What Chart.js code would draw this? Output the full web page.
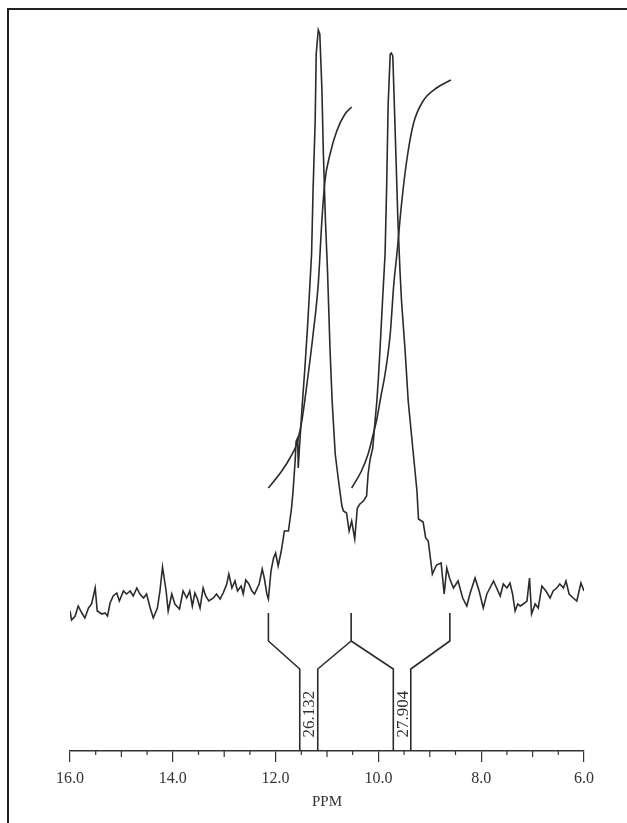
<!DOCTYPE html>
<html>
<head>
<meta charset="utf-8">
<script src="https://cdn.jsdelivr.net/npm/chart.js@4.4.1/dist/chart.umd.min.js"></script>
<style>
  body { margin: 0; background: #fff; }
  #wrap { width: 627px; height: 823px; }
</style>
</head>
<body>
<div id="wrap"><canvas id="nmrChart" width="627" height="823"></canvas></div>
<script>
// Spectrum trace (ppm, intensity in arbitrary units)
const specPpm = [16.00, 15.97, 15.90, 15.84, 15.77, 15.71, 15.64, 15.58, 15.51, 15.47, 15.38, 15.32, 15.27, 15.22, 15.16, 15.09, 15.04, 14.96, 14.90, 14.83, 14.77, 14.70, 14.64, 14.57, 14.51, 14.44, 14.38, 14.30, 14.25, 14.20, 14.13, 14.09, 14.02, 13.96, 13.87, 13.80, 13.73, 13.67, 13.62, 13.57, 13.52, 13.47, 13.41, 13.36, 13.30, 13.21, 13.15, 13.08, 13.02, 12.95, 12.91, 12.85, 12.79, 12.74, 12.67, 12.63, 12.58, 12.52, 12.46, 12.41, 12.32, 12.26, 12.22, 12.17, 12.14, 12.09, 12.04, 12.00, 11.95, 11.89, 11.85, 11.83, 11.75, 11.69, 11.66, 11.62, 11.60, 11.57, 11.56, 11.54, 11.49, 11.43, 11.38, 11.35, 11.30, 11.27, 11.23, 11.21, 11.17, 11.14, 11.10, 11.07, 11.03, 10.99, 10.94, 10.90, 10.84, 10.78, 10.71, 10.68, 10.62, 10.57, 10.52, 10.46, 10.41, 10.36, 10.29, 10.23, 10.20, 10.16, 10.11, 10.07, 10.03, 10.00, 9.97, 9.94, 9.92, 9.87, 9.84, 9.81, 9.77, 9.75, 9.72, 9.70, 9.66, 9.62, 9.58, 9.55, 9.48, 9.42, 9.32, 9.25, 9.22, 9.13, 9.08, 9.03, 8.95, 8.87, 8.78, 8.72, 8.67, 8.61, 8.54, 8.45, 8.36, 8.28, 8.22, 8.12, 8.04, 7.96, 7.89, 7.83, 7.76, 7.70, 7.63, 7.57, 7.50, 7.44, 7.39, 7.34, 7.29, 7.24, 7.18, 7.11, 7.06, 7.02, 6.95, 6.89, 6.82, 6.74, 6.66, 6.60, 6.53, 6.47, 6.40, 6.35, 6.29, 6.21, 6.14, 6.06, 6.00];
const specInt = [140, 131, 135, 145, 138, 133, 143, 147, 163, 140, 137, 138, 135, 148, 155, 158, 150, 160, 157, 160, 155, 163, 157, 153, 157, 143, 133, 143, 160, 184, 160, 140, 157, 147, 142, 160, 153, 160, 145, 158, 152, 143, 163, 155, 150, 153, 157, 152, 158, 167, 177, 163, 170, 160, 165, 157, 171, 167, 160, 157, 167, 182, 173, 157, 152, 180, 193, 198, 185, 200, 213, 220, 220, 243, 260, 290, 310, 313, 283, 300, 340, 383, 423, 450, 497, 563, 630, 697, 721, 717, 663, 597, 530, 480, 400, 350, 297, 272, 245, 240, 238, 220, 230, 212, 243, 247, 250, 255, 277, 292, 303, 327, 350, 373, 400, 430, 450, 497, 563, 647, 697, 698, 695, 663, 597, 530, 480, 450, 400, 350, 297, 260, 232, 229, 213, 210, 177, 186, 188, 157, 183, 172, 163, 170, 153, 145, 157, 173, 160, 143, 157, 163, 170, 163, 155, 167, 163, 168, 157, 140, 147, 145, 147, 150, 173, 137, 147, 143, 165, 160, 153, 160, 163, 167, 163, 170, 157, 153, 150, 168, 160];

// Integral curves
const int1Ppm = [12.14, 11.88, 11.72, 11.59, 11.49, 11.39, 11.27, 11.17, 11.10, 11.04, 10.94, 10.81, 10.65, 10.52];
const int1Val = [263, 280, 293, 307, 330, 367, 417, 467, 530, 570, 597, 620, 637, 644];
const int2Ppm = [10.52, 10.33, 10.20, 10.10, 10.03, 9.95, 9.87, 9.77, 9.70, 9.64, 9.55, 9.45, 9.32, 9.13, 8.87, 8.59];
const int2Val = [263, 280, 297, 317, 332, 355, 377, 417, 467, 497, 547, 590, 627, 650, 663, 671];

// Integration regions and their values
const integralValues = [26.132, 27.904];
const regionEdges = [[12.14, 10.53], [10.53, 8.61]];
const labelStems = [[11.53, 11.18], [9.71, 9.37]];
const bracketLevels = { top: 138, knee: 110, foot: 82 };

const tickValues = [16, 14, 12, 10, 8, 6];

const ink = '#2b2b2b';

function pts(xs, ys) { return xs.map((x, i) => ({ x: x, y: ys[i] })); }

// bracket polyline built from the region arrays
const bracketPts = [];
regionEdges.forEach((r, i) => {
  const s = labelStems[i];
  bracketPts.push({ x: r[0], y: bracketLevels.top }, { x: r[0], y: bracketLevels.knee },
    { x: s[0], y: bracketLevels.foot }, { x: s[0], y: 0 }, { x: s[0], y: null },
    { x: s[1], y: 0 }, { x: s[1], y: bracketLevels.foot },
    { x: r[1], y: bracketLevels.knee }, { x: r[1], y: bracketLevels.top }, { x: r[1], y: null });
});

const framePlugin = {
  id: 'frame',
  beforeDraw(chart) {
    const c = chart.ctx;
    c.save();
    c.fillStyle = '#fff';
    c.fillRect(0, 0, chart.width, chart.height);
    c.strokeStyle = '#222';
    c.lineWidth = 2;
    c.beginPath();
    c.moveTo(8, chart.height);
    c.lineTo(8, 9);
    c.lineTo(chart.width, 9);
    c.stroke();
    c.restore();
  }
};

const extrasPlugin = {
  id: 'extras',
  afterDatasetsDraw(chart) {
    const c = chart.ctx;
    const xs = chart.scales.x, ys = chart.scales.y;
    const base = ys.getPixelForValue(0);
    c.save();
    // minor ticks every 0.5 ppm
    c.strokeStyle = '#333';
    c.lineWidth = 1.2;
    for (let v = 6.5; v < 16; v += 0.5) {
      if (v % 2 === 0) continue;
      const px = xs.getPixelForValue(v);
      const len = (v % 1 === 0) ? 6 : 4;
      c.beginPath();
      c.moveTo(px, base);
      c.lineTo(px, base + len);
      c.stroke();
    }
    // integral values, rotated between the bracket legs
    c.fillStyle = '#333';
    c.font = '17px "Liberation Serif", "Times New Roman", serif';
    c.textAlign = 'center';
    c.textBaseline = 'middle';
    integralValues.forEach((val, i) => {
      const s = labelStems[i];
      const px = xs.getPixelForValue((s[0] + s[1]) / 2);
      const py = ys.getPixelForValue(37);
      c.save();
      c.translate(px + 1, py);
      c.rotate(-Math.PI / 2);
      c.fillText(val.toFixed(3), 0, 0);
      c.restore();
    });
    c.restore();
  }
};

const lineStyle = { borderColor: ink, borderWidth: 1.6, pointRadius: 0, fill: false };

new Chart(document.getElementById('nmrChart').getContext('2d'), {
  type: 'line',
  data: {
    datasets: [
      Object.assign({ label: 'spectrum', data: pts(specPpm, specInt), tension: 0 }, lineStyle),
      Object.assign({ label: 'integral 1', data: pts(int1Ppm, int1Val), cubicInterpolationMode: 'monotone' }, lineStyle),
      Object.assign({ label: 'integral 2', data: pts(int2Ppm, int2Val), cubicInterpolationMode: 'monotone' }, lineStyle),
      Object.assign({ label: 'brackets', data: bracketPts, spanGaps: false, tension: 0 }, lineStyle)
    ]
  },
  options: {
    responsive: false,
    animation: false,
    events: [],
    layout: { padding: { left: 70, right: 43, top: 16, bottom: 0 } },
    plugins: { legend: { display: false }, tooltip: { enabled: false } },
    scales: {
      x: {
        type: 'linear',
        reverse: true,
        min: 6,
        max: 16,
        afterBuildTicks(scale) { scale.ticks = tickValues.map(v => ({ value: v })); },
        afterFit(scale) { scale.height = 72; },
        grid: { drawOnChartArea: false, drawTicks: true, tickLength: 11, color: '#333', lineWidth: 1.2 },
        border: { display: true, color: '#333', width: 1.5 },
        ticks: {
          padding: 7,
          color: '#333',
          maxRotation: 0,
          font: { family: '"Liberation Serif", "Times New Roman", serif', size: 16 },
          callback: v => Number(v).toFixed(1)
        },
        title: {
          display: true,
          text: 'PPM',
          color: '#333',
          font: { family: '"Liberation Serif", "Times New Roman", serif', size: 15 },
          padding: { top: 0, bottom: 12 }
        }
      },
      y: { display: false, min: 0, max: 735 }
    }
  },
  plugins: [framePlugin, extrasPlugin]
});
</script>
</body>
</html>
